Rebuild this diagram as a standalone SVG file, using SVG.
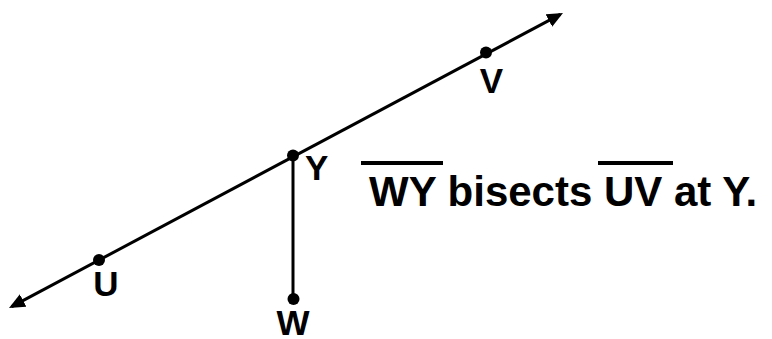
<svg xmlns="http://www.w3.org/2000/svg" width="772" height="339" viewBox="0 0 772 339">
  <style>
    .ln { stroke: #000; stroke-width: 3; fill: none; }
    .dot { fill: #000; }
    .lbl { font-family: "Liberation Sans", Arial, sans-serif; font-weight: bold; font-size: 35px; fill: #000; }
    .stmt { font-family: "Liberation Sans", Arial, sans-serif; font-weight: bold; font-size: 42px; fill: #000; }
    .bar { stroke: #000; stroke-width: 4; }
  </style>
  <defs>
    <marker id="arrow" viewBox="0 0 16 14" refX="13" refY="7" markerWidth="16" markerHeight="14" markerUnits="userSpaceOnUse" orient="auto-start-reverse">
      <path d="M0,0 L16,7 L0,14 z" fill="#000"/>
    </marker>
  </defs>
  <rect width="772" height="339" fill="#fff"/>
  <g id="connectors">
    <line id="line-UV" class="ln" x1="11.65" y1="306.59" x2="560.35" y2="14.41" marker-start="url(#arrow)" marker-end="url(#arrow)"/>
    <line id="segment-WY" class="ln" x1="293" y1="155.5" x2="293" y2="299"/>
  </g>
  <g id="node-U">
    <circle class="dot" cx="99" cy="260" r="6"/>
    <text class="lbl" x="106" y="296" text-anchor="middle">U</text>
  </g>
  <g id="node-V">
    <circle class="dot" cx="486" cy="52.5" r="6"/>
    <text class="lbl" x="491.5" y="93" text-anchor="middle">V</text>
  </g>
  <g id="node-Y">
    <circle class="dot" cx="293" cy="155.5" r="6"/>
    <text class="lbl" x="305" y="180">Y</text>
  </g>
  <g id="node-W">
    <circle class="dot" cx="293.5" cy="299" r="6"/>
    <text class="lbl" x="293" y="335" text-anchor="middle">W</text>
  </g>
  <g id="statement">
    <line class="bar" x1="361" y1="163" x2="443" y2="163"/>
    <line class="bar" x1="598" y1="163" x2="673" y2="163"/>
    <text class="stmt" x="369" y="206">WY bisects UV at Y.</text>
  </g>
</svg>
